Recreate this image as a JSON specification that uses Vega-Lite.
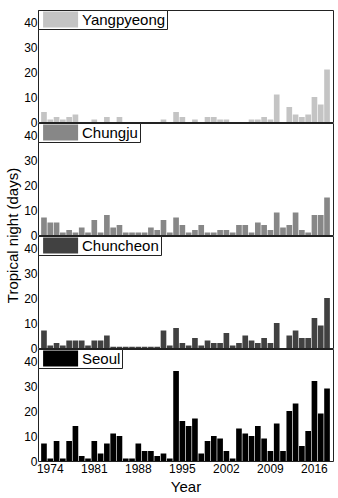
{
  "$schema": "https://vega.github.io/schema/vega-lite/v6.json",
  "padding": {"left": 4, "top": 9, "right": 0, "bottom": 0},
  "background": "white",
  "config": {
    "font": "Liberation Sans",
    "view": {"stroke": "#222222", "strokeWidth": 1},
    "axis": {"labelFont": "Liberation Sans", "titleFont": "Liberation Sans", "labelColor": "#000000", "titleColor": "#000000", "labelFontSize": 12, "titleFontSize": 15, "titleFontWeight": "normal", "grid": false, "domain": false, "ticks": false},
    "legend": {"orient": "top-left", "offset": 0, "padding": 1.5, "strokeColor": "#222222", "fillColor": "white", "symbolType": "M-0.55,-1L3.825,-1L3.825,1L-0.55,1Z", "symbolSize": 256, "symbolStrokeWidth": 0, "symbolOpacity": 1, "labelFontSize": 15, "labelFont": "Liberation Sans", "labelColor": "#000000", "labelOffset": 26.5, "labelLimit": 300}
  },
  "data": {"values": [
    {"station":"Seoul","year":1973,"days":7},{"station":"Seoul","year":1974,"days":1},{"station":"Seoul","year":1975,"days":8},{"station":"Seoul","year":1976,"days":1},{"station":"Seoul","year":1977,"days":8},{"station":"Seoul","year":1978,"days":14},{"station":"Seoul","year":1979,"days":2},{"station":"Seoul","year":1980,"days":1},{"station":"Seoul","year":1981,"days":8},{"station":"Seoul","year":1982,"days":3},{"station":"Seoul","year":1983,"days":7},{"station":"Seoul","year":1984,"days":11},{"station":"Seoul","year":1985,"days":10},{"station":"Seoul","year":1986,"days":1},{"station":"Seoul","year":1987,"days":1},{"station":"Seoul","year":1988,"days":7},{"station":"Seoul","year":1989,"days":4},{"station":"Seoul","year":1990,"days":4},{"station":"Seoul","year":1991,"days":2},{"station":"Seoul","year":1992,"days":3},{"station":"Seoul","year":1993,"days":1},{"station":"Seoul","year":1994,"days":36},{"station":"Seoul","year":1995,"days":16},{"station":"Seoul","year":1996,"days":14},{"station":"Seoul","year":1997,"days":17},{"station":"Seoul","year":1998,"days":3},{"station":"Seoul","year":1999,"days":8},{"station":"Seoul","year":2000,"days":10},{"station":"Seoul","year":2001,"days":9},{"station":"Seoul","year":2002,"days":4},{"station":"Seoul","year":2003,"days":1},{"station":"Seoul","year":2004,"days":13},{"station":"Seoul","year":2005,"days":11},{"station":"Seoul","year":2006,"days":10},{"station":"Seoul","year":2007,"days":14},{"station":"Seoul","year":2008,"days":9},{"station":"Seoul","year":2009,"days":4},{"station":"Seoul","year":2010,"days":15},{"station":"Seoul","year":2011,"days":4},{"station":"Seoul","year":2012,"days":20},{"station":"Seoul","year":2013,"days":23},{"station":"Seoul","year":2014,"days":6},{"station":"Seoul","year":2015,"days":12},{"station":"Seoul","year":2016,"days":32},{"station":"Seoul","year":2017,"days":19},{"station":"Seoul","year":2018,"days":29},
    {"station":"Chuncheon","year":1973,"days":7},{"station":"Chuncheon","year":1974,"days":1},{"station":"Chuncheon","year":1975,"days":2},{"station":"Chuncheon","year":1976,"days":1},{"station":"Chuncheon","year":1977,"days":3},{"station":"Chuncheon","year":1978,"days":3},{"station":"Chuncheon","year":1979,"days":3},{"station":"Chuncheon","year":1980,"days":1},{"station":"Chuncheon","year":1981,"days":3},{"station":"Chuncheon","year":1982,"days":3},{"station":"Chuncheon","year":1983,"days":5},{"station":"Chuncheon","year":1984,"days":0.5},{"station":"Chuncheon","year":1985,"days":0.5},{"station":"Chuncheon","year":1986,"days":0.5},{"station":"Chuncheon","year":1987,"days":0.5},{"station":"Chuncheon","year":1988,"days":0.5},{"station":"Chuncheon","year":1989,"days":0.5},{"station":"Chuncheon","year":1990,"days":0.5},{"station":"Chuncheon","year":1991,"days":0.5},{"station":"Chuncheon","year":1992,"days":7},{"station":"Chuncheon","year":1993,"days":1},{"station":"Chuncheon","year":1994,"days":8},{"station":"Chuncheon","year":1995,"days":2},{"station":"Chuncheon","year":1996,"days":1},{"station":"Chuncheon","year":1997,"days":4},{"station":"Chuncheon","year":1998,"days":1},{"station":"Chuncheon","year":1999,"days":3},{"station":"Chuncheon","year":2000,"days":2},{"station":"Chuncheon","year":2001,"days":2},{"station":"Chuncheon","year":2002,"days":6},{"station":"Chuncheon","year":2003,"days":1},{"station":"Chuncheon","year":2004,"days":2},{"station":"Chuncheon","year":2005,"days":5},{"station":"Chuncheon","year":2006,"days":3},{"station":"Chuncheon","year":2007,"days":2},{"station":"Chuncheon","year":2008,"days":4},{"station":"Chuncheon","year":2009,"days":2},{"station":"Chuncheon","year":2010,"days":10},{"station":"Chuncheon","year":2011,"days":0},{"station":"Chuncheon","year":2012,"days":5},{"station":"Chuncheon","year":2013,"days":7},{"station":"Chuncheon","year":2014,"days":4},{"station":"Chuncheon","year":2015,"days":4},{"station":"Chuncheon","year":2016,"days":12},{"station":"Chuncheon","year":2017,"days":9},{"station":"Chuncheon","year":2018,"days":20},
    {"station":"Chungju","year":1973,"days":7},{"station":"Chungju","year":1974,"days":5},{"station":"Chungju","year":1975,"days":5},{"station":"Chungju","year":1976,"days":1},{"station":"Chungju","year":1977,"days":2},{"station":"Chungju","year":1978,"days":1},{"station":"Chungju","year":1979,"days":3},{"station":"Chungju","year":1980,"days":1},{"station":"Chungju","year":1981,"days":6},{"station":"Chungju","year":1982,"days":1},{"station":"Chungju","year":1983,"days":8},{"station":"Chungju","year":1984,"days":3},{"station":"Chungju","year":1985,"days":4},{"station":"Chungju","year":1986,"days":1},{"station":"Chungju","year":1987,"days":1},{"station":"Chungju","year":1988,"days":1},{"station":"Chungju","year":1989,"days":1},{"station":"Chungju","year":1990,"days":3},{"station":"Chungju","year":1991,"days":2},{"station":"Chungju","year":1992,"days":6},{"station":"Chungju","year":1993,"days":1},{"station":"Chungju","year":1994,"days":7},{"station":"Chungju","year":1995,"days":4},{"station":"Chungju","year":1996,"days":1},{"station":"Chungju","year":1997,"days":2},{"station":"Chungju","year":1998,"days":4},{"station":"Chungju","year":1999,"days":1},{"station":"Chungju","year":2000,"days":1},{"station":"Chungju","year":2001,"days":2},{"station":"Chungju","year":2002,"days":2},{"station":"Chungju","year":2003,"days":1},{"station":"Chungju","year":2004,"days":4},{"station":"Chungju","year":2005,"days":4},{"station":"Chungju","year":2006,"days":1},{"station":"Chungju","year":2007,"days":5},{"station":"Chungju","year":2008,"days":4},{"station":"Chungju","year":2009,"days":2},{"station":"Chungju","year":2010,"days":9},{"station":"Chungju","year":2011,"days":3},{"station":"Chungju","year":2012,"days":4},{"station":"Chungju","year":2013,"days":9},{"station":"Chungju","year":2014,"days":2},{"station":"Chungju","year":2015,"days":1},{"station":"Chungju","year":2016,"days":8},{"station":"Chungju","year":2017,"days":8},{"station":"Chungju","year":2018,"days":15},
    {"station":"Yangpyeong","year":1973,"days":4},{"station":"Yangpyeong","year":1974,"days":1},{"station":"Yangpyeong","year":1975,"days":2},{"station":"Yangpyeong","year":1976,"days":1},{"station":"Yangpyeong","year":1977,"days":2},{"station":"Yangpyeong","year":1978,"days":3},{"station":"Yangpyeong","year":1979,"days":0},{"station":"Yangpyeong","year":1980,"days":0},{"station":"Yangpyeong","year":1981,"days":1},{"station":"Yangpyeong","year":1982,"days":0},{"station":"Yangpyeong","year":1983,"days":2},{"station":"Yangpyeong","year":1984,"days":0},{"station":"Yangpyeong","year":1985,"days":2},{"station":"Yangpyeong","year":1986,"days":0},{"station":"Yangpyeong","year":1987,"days":0},{"station":"Yangpyeong","year":1988,"days":0},{"station":"Yangpyeong","year":1989,"days":0},{"station":"Yangpyeong","year":1990,"days":0},{"station":"Yangpyeong","year":1991,"days":0},{"station":"Yangpyeong","year":1992,"days":1},{"station":"Yangpyeong","year":1993,"days":0},{"station":"Yangpyeong","year":1994,"days":4},{"station":"Yangpyeong","year":1995,"days":2},{"station":"Yangpyeong","year":1996,"days":0},{"station":"Yangpyeong","year":1997,"days":1},{"station":"Yangpyeong","year":1998,"days":0},{"station":"Yangpyeong","year":1999,"days":2},{"station":"Yangpyeong","year":2000,"days":2},{"station":"Yangpyeong","year":2001,"days":1},{"station":"Yangpyeong","year":2002,"days":1},{"station":"Yangpyeong","year":2003,"days":0},{"station":"Yangpyeong","year":2004,"days":0},{"station":"Yangpyeong","year":2005,"days":0},{"station":"Yangpyeong","year":2006,"days":1},{"station":"Yangpyeong","year":2007,"days":1},{"station":"Yangpyeong","year":2008,"days":2},{"station":"Yangpyeong","year":2009,"days":1},{"station":"Yangpyeong","year":2010,"days":11},{"station":"Yangpyeong","year":2011,"days":0},{"station":"Yangpyeong","year":2012,"days":6},{"station":"Yangpyeong","year":2013,"days":3},{"station":"Yangpyeong","year":2014,"days":2},{"station":"Yangpyeong","year":2015,"days":3},{"station":"Yangpyeong","year":2016,"days":10},{"station":"Yangpyeong","year":2017,"days":7},{"station":"Yangpyeong","year":2018,"days":21}
  ]},
  "bounds": "flush",
  "spacing": 1,
  "vconcat": [
    {
      "width": 295, "height": 112,
      "transform": [{"filter": "datum.station === 'Yangpyeong'"}],
      "mark": {"type": "bar"},
      "encoding": {
        "x": {"field": "year", "type": "ordinal", "scale": {"paddingInner": 0.1, "paddingOuter": 0.5}, "axis": null},
        "y": {"field": "days", "type": "quantitative", "scale": {"domain": [0, 44.8], "nice": false}, "axis": {"values": [0, 10, 20, 30, 40], "title": null, "labelPadding": 1}},
        "color": {"field": "station", "type": "nominal", "scale": {"domain": ["Yangpyeong"], "range": ["#c4c4c4"]}, "legend": {"title": null}}
      }
    },
    {
      "width": 295, "height": 112,
      "transform": [{"filter": "datum.station === 'Chungju'"}],
      "mark": {"type": "bar"},
      "encoding": {
        "x": {"field": "year", "type": "ordinal", "scale": {"paddingInner": 0.1, "paddingOuter": 0.5}, "axis": null},
        "y": {"field": "days", "type": "quantitative", "scale": {"domain": [0, 44.8], "nice": false}, "axis": {"values": [0, 10, 20, 30, 40], "title": "Tropical night (days)", "labelPadding": 1, "titleX": -26, "titleY": 112, "titleAngle": -90, "titleAlign": "center", "titleBaseline": "middle"}},
        "color": {"field": "station", "type": "nominal", "scale": {"domain": ["Chungju"], "range": ["#878787"]}, "legend": {"title": null}}
      }
    },
    {
      "width": 295, "height": 112,
      "transform": [{"filter": "datum.station === 'Chuncheon'"}],
      "mark": {"type": "bar"},
      "encoding": {
        "x": {"field": "year", "type": "ordinal", "scale": {"paddingInner": 0.1, "paddingOuter": 0.5}, "axis": null},
        "y": {"field": "days", "type": "quantitative", "scale": {"domain": [0, 44.8], "nice": false}, "axis": {"values": [0, 10, 20, 30, 40], "title": null, "labelPadding": 1}},
        "color": {"field": "station", "type": "nominal", "scale": {"domain": ["Chuncheon"], "range": ["#414141"]}, "legend": {"title": null}}
      }
    },
    {
      "width": 295, "height": 112,
      "transform": [{"filter": "datum.station === 'Seoul'"}],
      "mark": {"type": "bar"},
      "encoding": {
        "x": {"field": "year", "type": "ordinal", "scale": {"paddingInner": 0.1, "paddingOuter": 0.5}, "axis": {"values": [1974, 1981, 1988, 1995, 2002, 2009, 2016], "labelAngle": 0, "labelPadding": 2, "title": "Year", "titlePadding": 5}},
        "y": {"field": "days", "type": "quantitative", "scale": {"domain": [0, 44.8], "nice": false}, "axis": {"values": [0, 10, 20, 30, 40], "title": null, "labelPadding": 1}},
        "color": {"field": "station", "type": "nominal", "scale": {"domain": ["Seoul"], "range": ["#000000"]}, "legend": {"title": null}}
      }
    }
  ],
  "resolve": {"scale": {"color": "independent"}, "legend": {"color": "independent"}}
}
